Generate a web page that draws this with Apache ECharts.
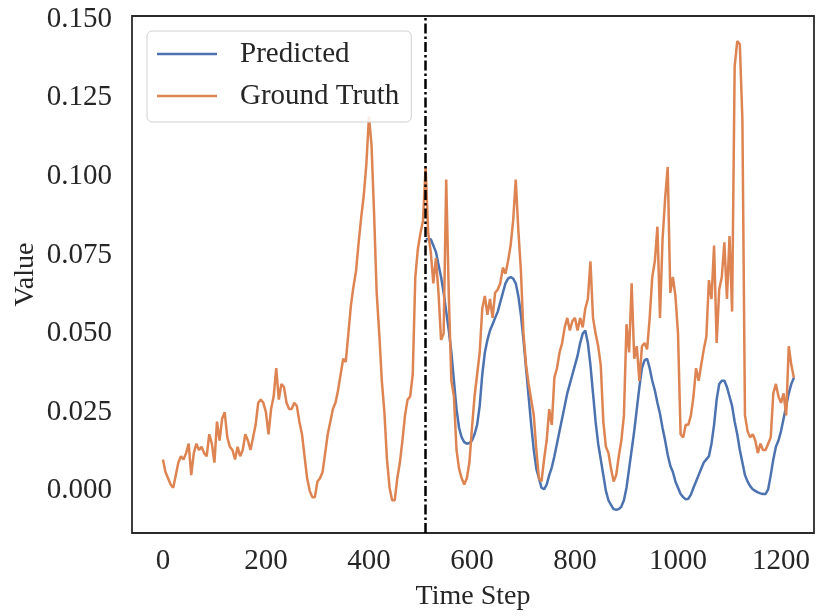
<!DOCTYPE html>
<html>
<head>
<meta charset="utf-8">
<script src="https://cdn.jsdelivr.net/npm/echarts@6/dist/echarts.min.js"></script>
<style>
html,body{margin:0;padding:0;background:#fff;}
#chart{width:817px;height:616px;}
</style>
</head>
<body>
<div id="chart"></div>
<script>
// ---- data ----
const gtStart = 0, gtStep = 5;
const groundTruth = [
0.010,0.006,0.004,0.002,0.001,0.005,0.009,0.011,0.010,0.012,
0.015,0.005,0.012,0.015,0.013,0.014,0.012,0.011,0.018,0.015,
0.009,0.022,0.016,0.023,0.025,0.017,0.014,0.013,0.010,0.014,
0.011,0.013,0.018,0.016,0.013,0.017,0.021,0.028,0.029,0.028,
0.025,0.018,0.026,0.030,0.039,0.029,0.034,0.033,0.028,0.026,
0.026,0.028,0.027,0.022,0.018,0.011,0.004,0.000,-0.002,-0.002,
0.003,0.004,0.006,0.012,0.018,0.022,0.026,0.028,0.032,0.037,
0.042,0.041,0.050,0.059,0.065,0.070,0.079,0.087,0.094,0.104,
0.119,0.110,0.088,0.063,0.050,0.035,0.025,0.010,0.001,-0.003,
-0.003,0.004,0.009,0.016,0.024,0.029,0.030,0.037,0.068,0.077,
0.082,0.086,0.103,0.082,0.076,0.066,0.074,0.063,0.048,0.050,
0.099,0.062,0.035,0.030,0.013,0.007,0.004,0.002,0.004,0.009,
0.020,0.030,0.037,0.044,0.058,0.062,0.056,0.061,0.055,0.063,
0.064,0.066,0.071,0.069,0.073,0.078,0.086,0.099,0.083,0.070,
0.050,0.040,0.034,0.029,0.024,0.013,0.004,0.003,0.010,0.016,
0.026,0.021,0.036,0.039,0.044,0.047,0.052,0.055,0.051,0.054,
0.055,0.051,0.055,0.052,0.058,0.061,0.073,0.055,0.050,0.046,
0.040,0.022,0.014,0.012,0.007,0.003,0.005,0.011,0.016,0.024,
0.053,0.044,0.066,0.042,0.046,0.035,0.046,0.047,0.045,0.055,
0.068,0.073,0.084,0.055,0.080,0.093,0.103,0.063,0.068,0.062,
0.050,0.018,0.017,0.021,0.021,0.024,0.030,0.039,0.035,0.040,
0.045,0.049,0.067,0.061,0.078,0.047,0.064,0.068,0.079,0.061,
0.081,0.057,0.135,0.143,0.142,0.118,0.024,0.019,0.017,0.018,
0.016,0.012,0.015,0.013,0.013,0.015,0.017,0.031,0.034,0.030,
0.028,0.031,0.024,0.046,0.040,0.036
];
const predStart = 510, predStep = 5;
const predicted = [
0.080,0.080,0.080,0.078,0.076,0.072,0.068,0.063,0.057,0.051,
0.044,0.035,0.026,0.020,0.017,0.0155,0.015,0.0152,0.016,0.018,
0.021,0.027,0.037,0.044,0.048,0.051,0.053,0.055,0.057,0.060,
0.063,0.066,0.0675,0.068,0.0675,0.066,0.062,0.056,0.048,0.039,
0.030,0.021,0.013,0.007,0.004,0.001,0.0005,0.002,0.005,0.0075,
0.011,0.015,0.019,0.023,0.027,0.031,0.034,0.037,0.040,0.043,
0.047,0.050,0.051,0.047,0.040,0.031,0.022,0.015,0.010,0.005,
0.000,-0.003,-0.0045,-0.0058,-0.006,-0.0058,-0.005,-0.003,0.001,0.007,
0.013,0.019,0.026,0.033,0.039,0.0415,0.042,0.039,0.035,0.032,
0.028,0.0245,0.020,0.016,0.0115,0.008,0.006,0.003,0.001,-0.001,
-0.002,-0.0027,-0.0025,-0.0012,0.001,0.003,0.005,0.007,0.009,0.010,
0.011,0.015,0.021,0.029,0.034,0.035,0.035,0.033,0.030,0.027,
0.022,0.018,0.013,0.009,0.005,0.003,0.0015,0.0005,0.000,-0.0005,
-0.0008,-0.001,-0.001,0.0005,0.005,0.010,0.014,0.016,0.019,0.023,
0.027,0.031,0.034,0.036
];
const splitStep = 510;
const xTicks = [0,200,400,600,800,1000,1200];
const yTicks = [0,0.025,0.05,0.075,0.1,0.125,0.15];
const seriesNames = ['Predicted','Ground Truth'];

// ---- build ----
const gtData = groundTruth.map((v,i)=>[gtStart+i*gtStep, v]);
const predData = predicted.map((v,i)=>[predStart+i*predStep, v]);
const FONT = 'Liberation Serif';
const TXT = '#262626';

const chart = echarts.init(document.getElementById('chart'), null, {renderer:'canvas'});
chart.setOption({
  animation:false,
  backgroundColor:'#fff',
  grid:{left:132, top:16, right:3, bottom:83, show:true, outerBoundsMode:'none', containLabel:false,
        borderColor:'#2a2a2a', borderWidth:1.8, backgroundColor:'transparent'},
  legend:{
    orient:'vertical', left:147, top:31,
    data:[{name:seriesNames[0], icon:'rect'},{name:seriesNames[1], icon:'rect'}],
    itemWidth:60, itemHeight:2.5, itemGap:10,
    padding:[7,12,10,10],
    backgroundColor:'rgba(255,255,255,0.85)',
    borderColor:'#d0d0d0', borderWidth:1, borderRadius:5,
    textStyle:{fontFamily:FONT, fontSize:29, color:TXT, lineHeight:32, padding:[0,0,0,18]}
  },
  xAxis:{
    type:'value', min:-60, max:1264,
    name:'Time Step', nameLocation:'middle', nameGap:50, nameMoveOverlap:false,
    nameTextStyle:{fontFamily:FONT, fontSize:28, color:TXT},
    axisLine:{show:false}, axisTick:{show:false}, splitLine:{show:false},
    axisLabel:{customValues:xTicks, fontFamily:FONT, fontSize:29, color:TXT, margin:14,
      formatter:(v)=>String(v)}
  },
  yAxis:{
    type:'value', min:-0.0134, max:0.151,
    name:'Value', nameLocation:'middle', nameGap:92, nameRotate:90, nameMoveOverlap:false,
    nameTextStyle:{fontFamily:FONT, fontSize:28, color:TXT},
    axisLine:{show:false}, axisTick:{show:false}, splitLine:{show:false},
    axisLabel:{customValues:yTicks, fontFamily:FONT, fontSize:29, color:TXT, margin:20,
      formatter:(v)=>v.toFixed(3)}
  },
  series:[
    {name:seriesNames[0], type:'line', data:predData, symbol:'none', showSymbol:false,
     lineStyle:{color:'#4C72B0', width:2.5}, itemStyle:{color:'#4C72B0'}, z:2},
    {name:seriesNames[1], type:'line', data:gtData, symbol:'none', showSymbol:false,
     lineStyle:{color:'#DD8452', width:2.5}, itemStyle:{color:'#DD8452'}, z:3,
     markLine:{silent:true, symbol:'none', label:{show:false},
       lineStyle:{color:'#000', width:2.5, type:[10,3,2.5,3]},
       data:[{xAxis:splitStep}], z:5}}
  ]
});
</script>
</body>
</html>
